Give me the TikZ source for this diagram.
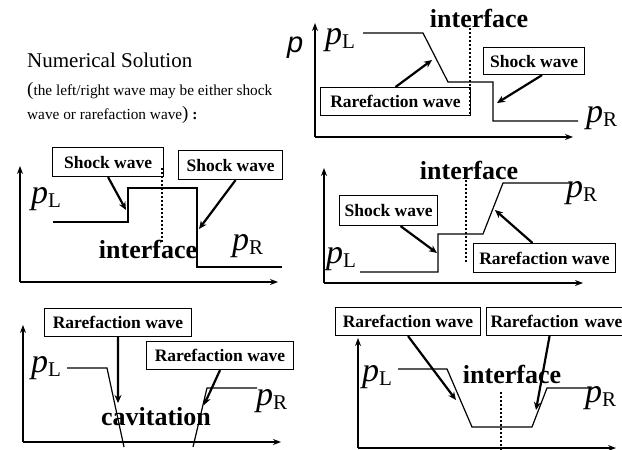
\documentclass[tikz,border=0pt]{standalone}
\usepackage{fontspec}
\setmainfont{Liberation Serif}
\newfontfamily\arialf{Liberation Sans}
\usetikzlibrary{arrows.meta}
\newcommand\pv[1]{\textit{p}\raisebox{-0.14em}{\fontsize{21}{21}\selectfont #1}}
\tikzset{
  axis/.style={line width=1.8pt,-{Stealth[length=8pt,width=6pt]}},
  curve/.style={line width=1.2pt},
  lbl/.style={draw,line width=1.1pt,anchor=north west,inner sep=0pt,
    font=\bfseries\fontsize{17.5}{19}\selectfont},
  ptr/.style={line width=2.2pt,-{Stealth[length=8pt,width=7pt]}},
  iface/.style={line width=2pt,dotted},
  ptext/.style={anchor=base west,inner sep=0pt,font=\fontsize{34}{34}\selectfont},
  bigb/.style={anchor=base,inner sep=0pt,font=\bfseries\fontsize{26}{26}\selectfont},
  ttl/.style={anchor=base west,inner sep=0pt}
}
\begin{document}
\begin{tikzpicture}[x=1pt,y=-1pt]
\useasboundingbox (0,0) rectangle (622,450);
\clip (0,0) rectangle (622,450);

% ---------- title ----------
\node[ttl,font=\fontsize{21}{21}\selectfont] (t1) at (27,67) {Numerical Solution};
\node[ttl,font=\fontsize{15.3}{16}\selectfont] (t2) at (27,95) {{\fontsize{19}{19}\selectfont(}the left/right wave may be either shock};
\node[ttl,font=\fontsize{15.3}{16}\selectfont] (t3) at (27,119) {wave or rarefaction wave{\fontsize{19}{19}\selectfont)}~\textbf{:}};

% ---------- panel 1 (top right) ----------
\coordinate (o1) at (315,137);
\coordinate (y1) at (315,23);
\coordinate (x1) at (573,137);
\draw[axis] (o1) -- (y1);
\draw[axis] (o1) -- (x1);
\node[inner sep=0pt,anchor=base west,font=\arialf\itshape\fontsize{29}{29}\selectfont] (plab) at (287,52) {p};
\draw[iface] (470,28) -- (470,115);
\draw[curve] (363,33) -- (423,33) -- (448,82) -- (493,82) -- (493,121) -- (578,121);
\node[ptext] (pl1) at (325,44) {\pv{L}};
\node[ptext] (pr1) at (586,122) {\pv{R}};
\node[bigb] (if1) at (479,27) {interface};
\node[lbl,minimum width=150pt,minimum height=28pt] (r1) at (320,87) {Rarefaction wave\hspace{8pt}};
\node[lbl,minimum width=101pt,minimum height=27pt] (s1) at (483,47) {Shock wave};
\coordinate (a1) at (432,60);
\coordinate (a2) at (497,103);
\draw[ptr] (r1.north) -- (a1);
\draw[ptr] ([xshift=8pt]s1.south) -- (a2);

% ---------- panel 2 (middle left) ----------
\coordinate (o2) at (20,282);
\coordinate (y2) at (20,166);
\coordinate (x2) at (278,282);
\draw[axis] (o2) -- (y2);
\draw[axis] (o2) -- (x2);
\draw[iface] (162,168) -- (162,242);
\draw[curve] (53,222) -- (128,222) -- (128,188) -- (197,188) -- (197,267) -- (282,267);
\node[ptext] (pl2) at (31,203) {\pv{L}};
\node[ptext] (pr2) at (232,250) {\pv{R}};
\node[bigb] (if2) at (148,258) {interface};
\node[lbl,minimum width=111pt,minimum height=29pt] (s2a) at (52,147) {Shock wave\hspace{12pt}};
\node[lbl,minimum width=104pt,minimum height=29pt] (s2b) at (178,150) {Shock wave};
\coordinate (a3) at (126,210);
\coordinate (a4) at (199,229);
\draw[ptr] (s2a.south) -- (a3);
\draw[ptr] ([xshift=5pt]s2b.south) -- (a4);

% ---------- panel 3 (middle right) ----------
\coordinate (o3) at (324,283);
\coordinate (y3) at (324,168);
\coordinate (x3) at (583,283);
\draw[axis] (o3) -- (y3);
\draw[axis] (o3) -- (x3);
\draw[iface] (466,172) -- (466,262);
\draw[curve] (360,272) -- (438,272) -- (438,234) -- (483,234) -- (503,183) -- (570,183);
\node[ptext] (pl3) at (326,263) {\pv{L}};
\node[ptext] (pr3) at (566,197) {\pv{R}};
\node[bigb] (if3) at (469,179) {interface};
\node[lbl,minimum width=98pt,minimum height=30pt] (s3) at (339,195) {Shock wave};
\node[lbl,minimum width=142pt,minimum height=29pt] (r3) at (473,243) {Rarefaction wave};
\coordinate (a5) at (437,253);
\coordinate (a6) at (495,210);
\draw[ptr] ([xshift=12pt]s3.south) -- (a5);
\draw[ptr] ([xshift=-12pt]r3.north) -- (a6);

% ---------- panel 4 (bottom left) ----------
\coordinate (o4) at (23,442);
\coordinate (y4) at (23,325);
\coordinate (x4) at (281,442);
\draw[axis] (o4) -- (y4);
\draw[axis] (o4) -- (x4);
\draw[curve] (67,368) -- (107,368) -- (124,447);
\draw[curve] (193,447) -- (207,388) -- (257,388);
\node[ptext] (pl4) at (31,372) {\pv{L}};
\node[ptext] (pr4) at (256,405) {\pv{R}};
\node[bigb] (cav) at (156,425) {cavitation};
\node[lbl,minimum width=147pt,minimum height=28pt] (r4a) at (44,308) {Rarefaction wave};
\node[lbl,minimum width=147pt,minimum height=28pt] (r4b) at (146,341) {Rarefaction wave};
\coordinate (a7) at (118,403);
\coordinate (a8) at (204,405);
\draw[ptr] (r4a.south) -- (a7);
\draw[ptr] (r4b.south) -- (a8);

% ---------- panel 5 (bottom right) ----------
\coordinate (o5) at (358,448);
\coordinate (y5) at (358,338);
\coordinate (x5) at (616,448);
\draw[axis] (o5) -- (y5);
\draw[axis] (o5) -- (x5);
\draw[iface] (501,392) -- (501,450);
\draw[curve] (398,369) -- (447,369) -- (472,427) -- (532,427) -- (547,388) -- (593,388);
\node[ptext] (pl5) at (362,381) {\pv{L}};
\node[ptext] (pr5) at (585,402) {\pv{R}};
\node[bigb] (if5) at (512,383) {interface};
\node[lbl,minimum width=145pt,minimum height=28pt] (r5a) at (335,307) {Rarefaction wave};
\node[lbl,minimum width=150pt,minimum height=28pt,text width=142pt,inner xsep=4pt,align=left] (r5b) at (486,307) {Rarefaction wave};
\coordinate (a9) at (456,400);
\coordinate (a10) at (536,410);
\draw[ptr] (r5a.south) -- (a9);
\draw[ptr] ([xshift=-12pt]r5b.south) -- (a10);
\end{tikzpicture}
\end{document}
